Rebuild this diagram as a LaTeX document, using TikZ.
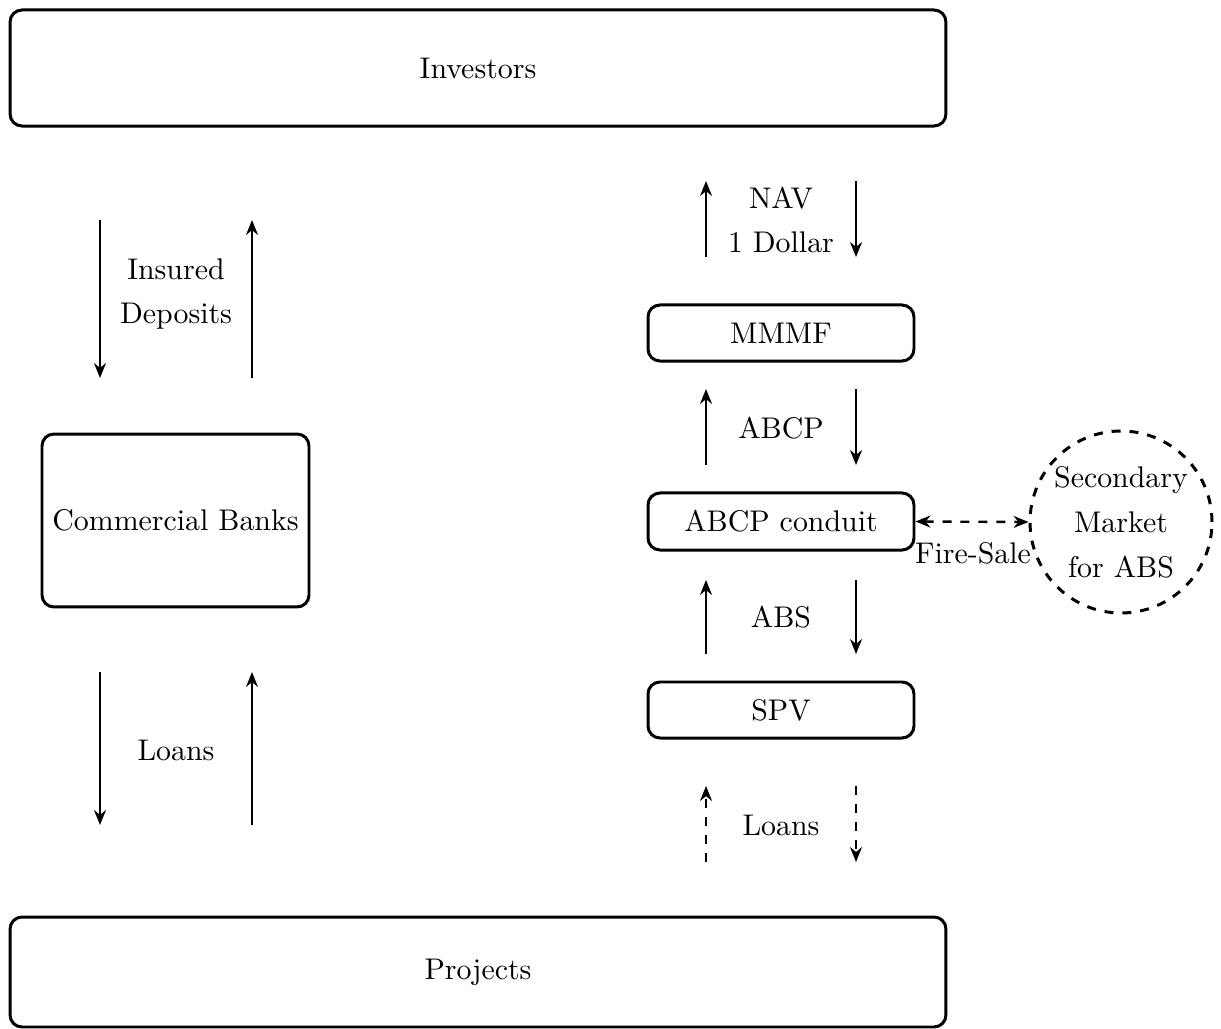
\documentclass[tikz,border=0pt]{standalone}
\usetikzlibrary{arrows.meta}
\begin{document}
\begin{tikzpicture}[x=0.011765cm,y=-0.011765cm,
  box/.style={draw,line width=1pt,rounded corners=4pt,inner sep=0pt},
  flow/.style={thick,-{Stealth[length=5pt,width=4pt]}},
  dflow/.style={flow,dashed},
  lbl/.style={align=center}]
\useasboundingbox (0,0) rectangle (1221,1029);
% boxes
\node[box,minimum width=11.01cm,minimum height=1.365cm] (inv) at (478,68) {Investors};
\node[box,minimum width=11.01cm,minimum height=1.294cm] (proj) at (478,972) {Projects};
\node[box,minimum width=3.141cm,minimum height=2.035cm] (cb) at (175.5,520.5) {Commercial Banks};
\node[box,minimum width=3.129cm,minimum height=0.659cm] (mmmf) at (781,333) {MMMF};
\node[box,minimum width=3.129cm,minimum height=0.671cm] (abcp) at (781,521.5) {ABCP conduit};
\node[box,minimum width=3.129cm,minimum height=0.659cm] (spv) at (781,710) {SPV};
\node[draw,circle,line width=1pt,dashed,inner sep=0pt,minimum size=2.141cm,lbl] (sec) at (1121,522) {Secondary\\[3pt]Market\\[3pt]for ABS};
% left arrows
\coordinate (a1s) at (100,220); \coordinate (a1e) at (100,378);
\coordinate (a2s) at (252,378); \coordinate (a2e) at (252,220);
\draw[flow] (a1s) -- (a1e);
\draw[flow] (a2s) -- (a2e);
\node[lbl] (dep) at (176,294) {Insured\\[3pt]Deposits};
\coordinate (b1s) at (100,672); \coordinate (b1e) at (100,825);
\coordinate (b2s) at (252,825); \coordinate (b2e) at (252,672);
\draw[flow] (b1s) -- (b1e);
\draw[flow] (b2s) -- (b2e);
\node (loans1) at (176,750) {Loans};
% right arrows
\coordinate (c1s) at (706,257); \coordinate (c1e) at (706,181);
\coordinate (c2s) at (856,181); \coordinate (c2e) at (856,257);
\draw[flow] (c1s) -- (c1e);
\draw[flow] (c2s) -- (c2e);
\node[lbl] (nav) at (781,220) {NAV\\[3pt]1 Dollar};
\coordinate (d1s) at (706,465); \coordinate (d1e) at (706,389);
\coordinate (d2s) at (856,389); \coordinate (d2e) at (856,465);
\draw[flow] (d1s) -- (d1e);
\draw[flow] (d2s) -- (d2e);
\node (abcpl) at (781,428) {ABCP};
\coordinate (e1s) at (706,654); \coordinate (e1e) at (706,580);
\coordinate (e2s) at (856,580); \coordinate (e2e) at (856,654);
\draw[flow] (e1s) -- (e1e);
\draw[flow] (e2s) -- (e2e);
\node (absl) at (781,617) {ABS};
\coordinate (f1s) at (706,862); \coordinate (f1e) at (706,786);
\coordinate (f2s) at (856,786); \coordinate (f2e) at (856,862);
\draw[dflow] (f1s) -- (f1e);
\draw[dflow] (f2s) -- (f2e);
\node (loans2) at (781,825) {Loans};
% fire sale
\draw[dflow,{Stealth[length=5pt,width=4pt]}-{Stealth[length=5pt,width=4pt]}] (abcp.east) -- (sec.west);
\node (fs) at (973,553) {Fire-Sale};
\end{tikzpicture}
\end{document}
